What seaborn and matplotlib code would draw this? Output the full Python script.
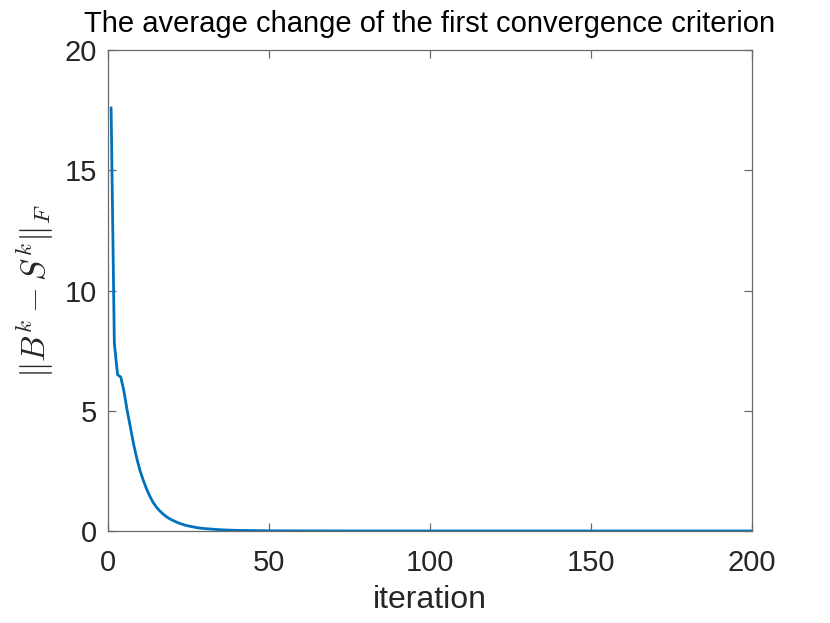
import matplotlib
matplotlib.use("Agg")
import matplotlib.pyplot as plt
import seaborn as sns
import pandas as pd

iterations = [1, 2, 3, 4, 5, 6, 7, 8, 9, 10, 11, 12, 13, 14, 15, 16, 17, 18, 19, 20,
              22, 24, 26, 28, 30, 35, 40, 50, 60, 80, 100, 150, 200]
values = [17.6, 7.8, 6.5, 6.4, 5.8, 5.0, 4.3, 3.6, 3.0, 2.5, 2.1, 1.75, 1.45, 1.2, 1.0,
          0.85, 0.72, 0.61, 0.52, 0.45, 0.33, 0.24, 0.18, 0.13, 0.10, 0.05, 0.025,
          0.008, 0.003, 0.001, 0.0005, 0.0002, 0.0001]
x_ticks = [0, 50, 100, 150, 200]
y_ticks = [0, 5, 10, 15, 20]

title = "The average change of the first convergence criterion"
x_label = "iteration"
y_label = r"$\|B^k - S^k\|_F$"

sns.set_theme(style="ticks")
plt.rcParams["font.family"] = ["Liberation Sans", "DejaVu Sans"]
plt.rcParams["mathtext.fontset"] = "cm"

df = pd.DataFrame({"iteration": iterations, "value": values})

fig = plt.figure(figsize=(8.3, 6.23), dpi=100)
ax = fig.add_axes([0.130, 0.1477, 0.776, 0.772])
sns.lineplot(data=df, x="iteration", y="value", ax=ax, color="#0072BD", linewidth=2)

ax.set_xlim(0, 200)
ax.set_ylim(0, 20)
ax.set_xticks(x_ticks)
ax.set_yticks(y_ticks)
ax.tick_params(direction="in", top=True, right=True, length=6, width=0.9,
               labelsize=21, labelcolor="#262626", color="#6a6a6a")
ax.tick_params(axis="x", pad=13)
ax.tick_params(axis="y", pad=8)
for s in ax.spines.values():
    s.set_color("#6a6a6a")
    s.set_linewidth(0.9)
    s.set_visible(True)
ax.set_xlabel(x_label, fontsize=23, color="#262626", labelpad=6)
ax.set_ylabel(y_label, fontsize=24, color="#262626", labelpad=6)
ax.set_title(title, fontsize=21, color="black", pad=13)

fig.savefig("out.png", dpi=100)
